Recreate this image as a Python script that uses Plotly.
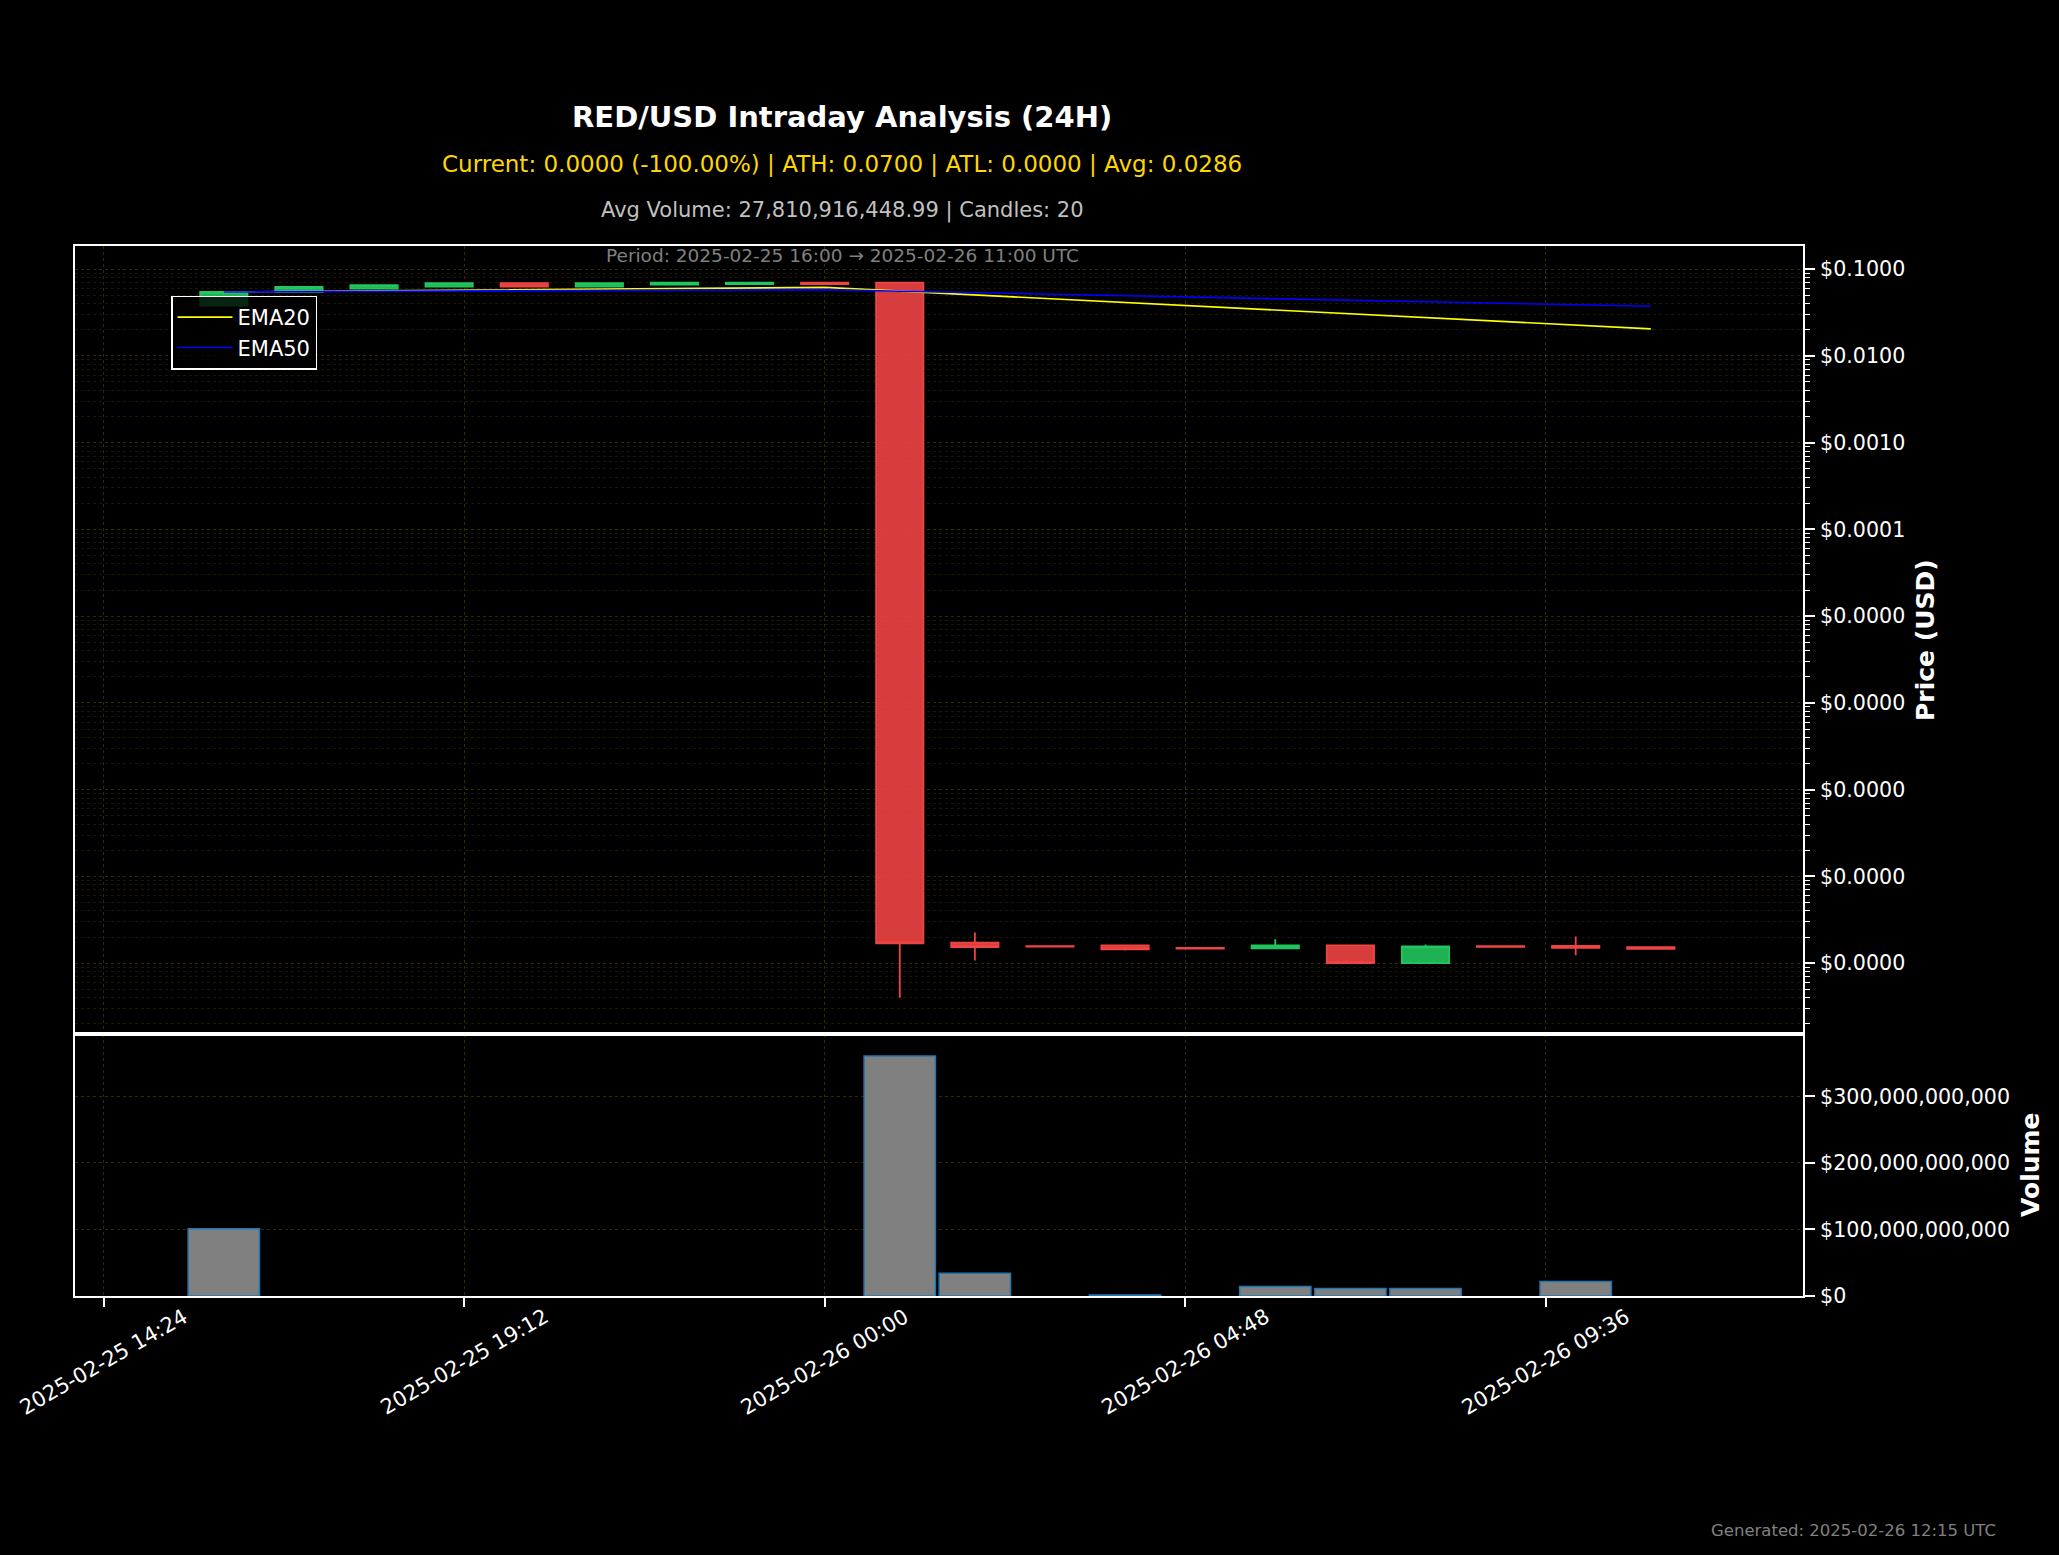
import pandas as pd
import plotly.graph_objects as go
from plotly.subplots import make_subplots

# ---------------- data ----------------
times = [
    "2025-02-25 16:00", "2025-02-25 17:00", "2025-02-25 18:00", "2025-02-25 19:00",
    "2025-02-25 20:00", "2025-02-25 21:00", "2025-02-25 22:00", "2025-02-25 23:00",
    "2025-02-26 00:00", "2025-02-26 01:00", "2025-02-26 02:00", "2025-02-26 03:00",
    "2025-02-26 04:00", "2025-02-26 05:00", "2025-02-26 06:00", "2025-02-26 07:00",
    "2025-02-26 08:00", "2025-02-26 09:00", "2025-02-26 10:00", "2025-02-26 11:00",
]
open_ = [0.0380, 0.0545, 0.0597, 0.0628, 0.0690, 0.0628, 0.0662, 0.0672, 0.0700, 0.0700,
         1.72e-9, 1.57e-9, 1.60e-9, 1.50e-9, 1.48e-9, 1.60e-9, 1.00e-9, 1.57e-9, 1.58e-9, 1.53e-9]
high = [0.0548, 0.0625, 0.0657, 0.0692, 0.0692, 0.0692, 0.0699, 0.0700, 0.0700, 0.0700,
        2.26e-9, 1.58e-9, 1.61e-9, 1.51e-9, 1.88e-9, 1.61e-9, 1.64e-9, 1.58e-9, 2.03e-9, 1.54e-9]
low = [0.0378, 0.0543, 0.0595, 0.0626, 0.0626, 0.0626, 0.0660, 0.0670, 0.0670, 4.0e-10,
       1.07e-9, 1.54e-9, 1.40e-9, 1.46e-9, 1.47e-9, 0.99e-9, 0.99e-9, 1.53e-9, 1.23e-9, 1.45e-9]
close = [0.0545, 0.0622, 0.0655, 0.0690, 0.0628, 0.0690, 0.0698, 0.0699, 0.0672, 1.69e-9,
         1.53e-9, 1.55e-9, 1.44e-9, 1.47e-9, 1.60e-9, 1.00e-9, 1.56e-9, 1.54e-9, 1.50e-9, 1.46e-9]
volume = [101.3e9, 0, 0, 0, 0, 0, 0, 0, 0, 361.0e9,
          34.3e9, 0, 1.5e9, 0, 14.2e9, 11.1e9, 11.1e9, 0, 21.7e9, 0]

price_ticks = [1e-9, 1e-8, 1e-7, 1e-6, 1e-5, 1e-4, 1e-3, 1e-2, 1e-1]
volume_ticks = [0, 100e9, 200e9, 300e9]
x_ticks = ["2025-02-25 14:24", "2025-02-25 19:12", "2025-02-26 00:00",
           "2025-02-26 04:48", "2025-02-26 09:36"]

title_text = "RED/USD Intraday Analysis (24H)"
stats_text = "Current: 0.0000 (-100.00%) | ATH: 0.0700 | ATL: 0.0000 | Avg: 0.0286"
vol_text = "Avg Volume: 27,810,916,448.99 | Candles: 20"
period_text = "Period: 2025-02-25 16:00 \u2192 2025-02-26 11:00 UTC"
footer_text = "Generated: 2025-02-26 12:15 UTC"

# ---------------- derived ----------------
ts = pd.to_datetime(times)
close_s = pd.Series(close)
ema20 = close_s.ewm(span=20, adjust=False).mean()
ema50 = close_s.ewm(span=50, adjust=False).mean()

# ---------------- layout geometry ----------------
W, H = 2059, 1555
L, R, T, B = 75, 256, 246, 259
PW, PH = W - L - R, H - T - B


def px(xp):
    return (xp - L) / PW


def py(yp):
    return (H - B - yp) / PH


FONT = "DejaVu Sans"
GRID = "rgba(255,215,0,0.20)"
GRID_MINOR = "rgba(255,215,0,0.11)"
TICK_SIZE = 20.6

fig = make_subplots(rows=2, cols=1, shared_xaxes=True, vertical_spacing=0,
                    row_heights=[0.75, 0.25])

fig.add_trace(go.Candlestick(
    x=ts, open=open_, high=high, low=low, close=close,
    increasing=dict(line=dict(color="#22c55e", width=1.8), fillcolor="rgba(34,197,94,0.9)"),
    decreasing=dict(line=dict(color="#ef4444", width=1.8), fillcolor="rgba(239,68,68,0.9)"),
    showlegend=False, name="Price"), row=1, col=1)

fig.add_trace(go.Scatter(x=ts, y=ema20, mode="lines", name="EMA20",
                         line=dict(color="#ffff00", width=1.6)), row=1, col=1)
fig.add_trace(go.Scatter(x=ts, y=ema50, mode="lines", name="EMA50",
                         line=dict(color="#0000ff", width=1.6)), row=1, col=1)

fig.add_trace(go.Bar(x=ts, y=volume, width=0.95 * 3600 * 1000,
                     marker=dict(color="#808080",
                                 line=dict(color="#1f77b4",
                                           width=[1.5 if v > 0 else 0 for v in volume])),
                     showlegend=False, name="Volume"), row=2, col=1)

xrange_ = ["2025-02-25 14:01:06", "2025-02-26 13:01:36"]
axis_common = dict(showline=True, linecolor="white", linewidth=2, mirror=True,
                   zeroline=False)

fig.update_xaxes(type="date", range=xrange_, tickvals=x_ticks, showticklabels=False,
                 showgrid=True, gridcolor=GRID, griddash="dot", gridwidth=1,
                 rangeslider_visible=False, **axis_common)
fig.update_xaxes(ticks="", row=1, col=1)
fig.update_xaxes(ticks="outside", ticklen=9, tickwidth=1.5, tickcolor="white", row=2, col=1)

minor_vals = [k * 10 ** e for e in range(-10, 0) for k in range(2, 10)]
fig.update_yaxes(type="log", side="right", range=[-9.8108, -0.7336],
                 tickmode="array", tickvals=price_ticks, tickformat="$.4f",
                 ticks="outside", ticklen=10, tickwidth=1.5, tickcolor="white",
                 ticklabelstandoff=1,
                 tickfont=dict(family=FONT, size=TICK_SIZE, color="white"),
                 showgrid=True, gridcolor=GRID, griddash="dot", gridwidth=1,
                 minor=dict(tickmode="array", tickvals=minor_vals, ticks="outside",
                            ticklen=5, tickwidth=1, tickcolor="white",
                            showgrid=True, gridcolor=GRID_MINOR, griddash="dot"),
                 row=1, col=1, **axis_common)
fig.update_yaxes(side="right", range=[0, 394.7e9], tickmode="array",
                 tickvals=volume_ticks, tickformat="$,.0f",
                 ticks="outside", ticklen=10, tickwidth=1.5, tickcolor="white",
                 ticklabelstandoff=1,
                 tickfont=dict(family=FONT, size=TICK_SIZE, color="white"),
                 showgrid=True, gridcolor=GRID, griddash="dot", gridwidth=1,
                 row=2, col=1, **axis_common)

annotations = [
    dict(text="<b>" + title_text + "</b>", x=px(842), y=py(117), font=dict(size=29, color="white")),
    dict(text=stats_text, x=px(842), y=py(164), font=dict(size=23, color="#FFD700")),
    dict(text=vol_text, x=px(842), y=py(210), font=dict(size=21, color="#C0C0C0")),
    dict(text=period_text, x=px(842), y=py(255.5), font=dict(size=18.5, color="#808080")),
    dict(text=footer_text, x=px(1998), y=py(1530), xanchor="right",
         font=dict(size=16.5, color="#808080")),
    dict(text="<b>Price (USD)</b>", x=px(1925), y=py(640), textangle=-90,
         font=dict(size=25, color="white")),
    dict(text="<b>Volume</b>", x=px(2030), y=py(1165), textangle=-90,
         font=dict(size=25, color="white")),
]
for tv in x_ticks:
    annotations.append(dict(text=tv, x=tv, xref="x2", y=py(1362), textangle=-30,
                            font=dict(size=21, color="white")))

for a in annotations:
    a.setdefault("xref", "paper")
    a.setdefault("yref", "paper")
    a.setdefault("xanchor", "center")
    a.setdefault("yanchor", "middle")
    a["showarrow"] = False
    a["font"]["family"] = FONT

fig.update_layout(
    width=W, height=H,
    margin=dict(l=L, r=R, t=T, b=B),
    paper_bgcolor="black", plot_bgcolor="black",
    font=dict(family=FONT, color="white"),
    boxgap=0.37, boxgroupgap=0,
    annotations=annotations,
    legend=dict(x=px(171), y=py(295.5), xanchor="left", yanchor="top",
                bgcolor="rgba(0,0,0,0.8)", bordercolor="white", borderwidth=1.5,
                itemwidth=55,
                font=dict(family=FONT, size=21, color="white")),
    showlegend=True,
)

fig.write_html("out.html")
